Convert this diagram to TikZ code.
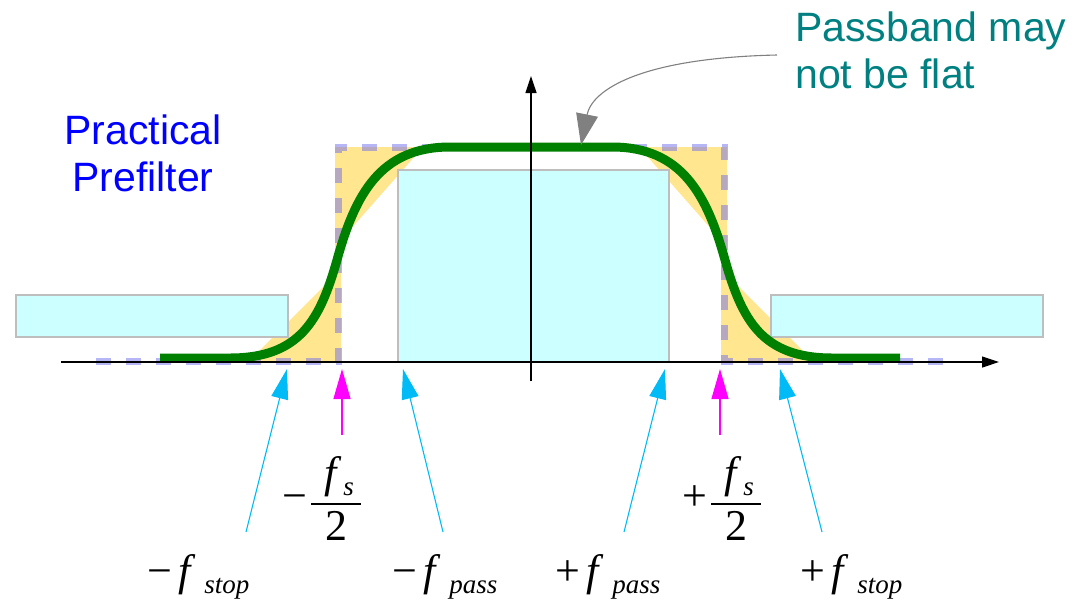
\documentclass[tikz,border=0pt]{standalone}
\usepackage{fontspec}
\setmainfont{Liberation Serif}
\newfontfamily\headfont{Liberation Sans}
\usetikzlibrary{arrows.meta,positioning}
\definecolor{boxcyan}{RGB}{204,255,255}
\definecolor{boxedge}{RGB}{190,190,190}
\definecolor{tolband}{RGB}{255,230,143}
\definecolor{maskblue}{RGB}{110,110,240}
\definecolor{respgreen}{RGB}{0,128,0}
\definecolor{skyarrow}{RGB}{0,187,245}
\definecolor{fsmag}{RGB}{255,0,255}
\definecolor{noteteal}{RGB}{0,128,128}
\definecolor{notegray}{RGB}{128,128,128}
\setlength{\arrayrulewidth}{2.5pt}
\newcommand{\lowtxt}[2][2pt]{\hspace{#1}\raisebox{-8pt}{\fontsize{27}{27}\selectfont\itshape #2}}
\newcommand{\freq}[2]{#1\hspace{6pt}\textit{f}\lowtxt[9pt]{#2}}
\newcommand{\halfrate}[1]{#1\hspace{4pt}\begin{tabular}{@{}c@{}}\makebox[50pt]{\hspace{6pt}\textit{f}\lowtxt{s}}\\\hline 2\end{tabular}}

\begin{document}
\begin{tikzpicture}[x=1pt,y=-1pt,
  band/.style={fill=boxcyan,draw=boxedge,line width=1.2pt},
  tol/.style={fill=tolband},
  mask/.style={draw=maskblue,draw opacity=0.5,line width=7pt,dash pattern=on 15pt off 15pt},
  resp/.style={draw=respgreen,line width=9pt},
  axis/.style={draw=black,line width=1.2pt,-{Triangle[length=17pt,width=11pt]}},
  ptr/.style={line width=1.1pt,-{Triangle[length=30pt,width=17pt]}},
  lbl/.style={font=\fontsize{44}{50}\selectfont,inner sep=0pt},
  head/.style={font=\headfont\fontsize{41}{47}\selectfont,inner sep=0pt}]
\useasboundingbox (0,0) rectangle (1084,600);
\fill[tol] (248,362) -- (335,275) -- (335,147) -- (423,147) -- (341,240) -- (341,362) -- cycle;
\fill[tol] (814,362) -- (727,275) -- (727,147) -- (639,147) -- (721,240) -- (721,362) -- cycle;
\draw[band] (16,295) rectangle (288,337);
\draw[band] (398,170) rectangle (669,362);
\draw[band] (771,295) rectangle (1043,337);
\draw[mask] (96,361) -- (338,361) -- (338,147) -- (724,147) -- (724,361) -- (955,361);
\draw[resp] (160,358) -- (230,358) .. controls (300,358) and (320,320) .. (337,260)
  .. controls (355,195) and (380,147) .. (450,147) -- (612,147)
  .. controls (682,147) and (707,195) .. (725,260)
  .. controls (742,320) and (762,358) .. (832,358) -- (900,358);
\draw[axis] (61,362) -- (999,362);
\draw[axis] (531,381) -- (531,76);

\node[head,text=blue,align=center,anchor=base] (title) at (143,191) {Practical\\Prefilter};
\node[head,text=noteteal,align=left,anchor=base west] (note) at (795,88) {Passband may\\not be flat};
\coordinate (noteend) at (777,55);
\coordinate (flat) at (581,145);
\draw[ptr,notegray,-{Triangle[length=31pt,width=22pt]}] (noteend) .. controls (640,58) and (592,90) .. (flat);

\node[lbl,anchor=base west] (fstopm) at (147,585) {\freq{−}{stop}};
\node[lbl,anchor=base west] (fpassm) at (392,585) {\freq{−}{pass}};
\node[lbl,anchor=base west] (fpassp) at (555,585) {\freq{+}{pass}};
\node[lbl,anchor=base west] (fstopp) at (800,585) {\freq{+}{stop}};
\node[lbl,anchor=west] (fsm) at (282,504) {\halfrate{−}};
\node[lbl,anchor=west] (fsp) at (682,504) {\halfrate{+}};

\coordinate (tstopm) at (287,369);
\coordinate (tfsm) at (342,369);
\coordinate (tpassm) at (403,369);
\coordinate (tpassp) at (665,369);
\coordinate (tfsp) at (720,369);
\coordinate (tstopp) at (780,369);
\coordinate (astopm) at (246,532);
\coordinate (afsm) at (342,435);
\coordinate (apassm) at (443,532);
\coordinate (apassp) at (624,532);
\coordinate (afsp) at (720,435);
\coordinate (astopp) at (822,532);
\draw[ptr,skyarrow] (astopm) -- (tstopm);
\draw[ptr,skyarrow] (apassm) -- (tpassm);
\draw[ptr,skyarrow] (apassp) -- (tpassp);
\draw[ptr,skyarrow] (astopp) -- (tstopp);
\draw[ptr,fsmag] (afsm) -- (tfsm);
\draw[ptr,fsmag] (afsp) -- (tfsp);
\end{tikzpicture}
\end{document}
